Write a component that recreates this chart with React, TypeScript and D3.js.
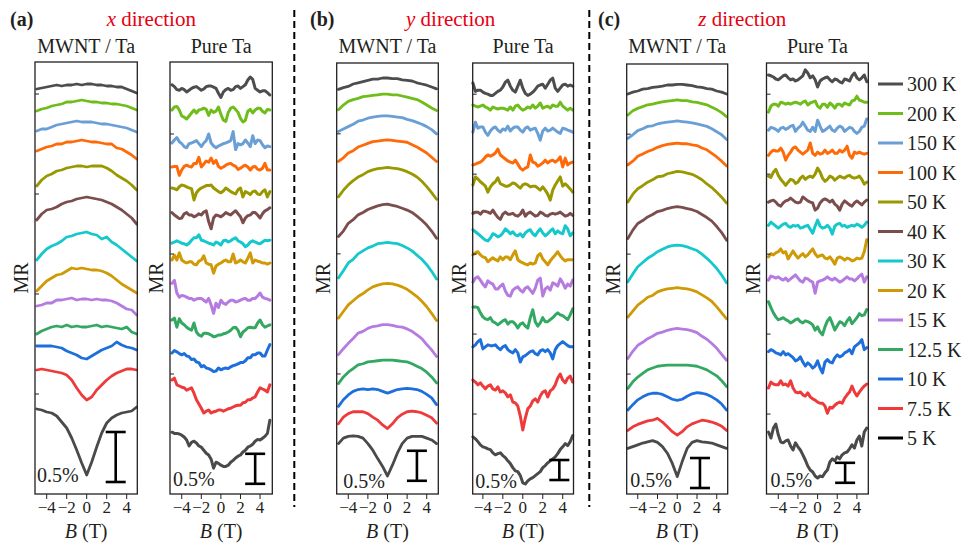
import React from 'react';
import * as d3 from 'd3';

const W = 967;
const H = 548;
const FONT = "'Liberation Serif', 'Times New Roman', Times, serif";

// temperatures, top to bottom
const temps = ['300 K', '200 K', '150 K', '100 K', '50 K', '40 K', '30 K', '20 K', '15 K', '12.5 K', '10 K', '7.5 K', '5 K'];
const colors = ['#4d4d4d', '#6fbd1a', '#6a9fd6', '#ff6a08', '#9a9800', '#7b4d4d', '#14c8cb', '#cf9a05', '#b57be0', '#33a862', '#1e6fdc', '#ee3a3a', '#4a4a4a'];
const legendColors = [...colors.slice(0, 12), '#000000'];

// field sweep grids (T)
const bMwnt = [-5, -4.5, -4, -3.5, -3, -2.5, -2, -1.5, -1, -0.5, 0, 0.5, 1, 1.5, 2, 2.5, 3, 3.5, 4, 4.5, 5];
const bPure = [-5, -4.75, -4.5, -4.25, -4, -3.75, -3.5, -3.25, -3, -2.75, -2.5, -2.25, -2, -1.75, -1.5, -1.25, -1, -0.75, -0.5, -0.25, 0,
  0.25, 0.5, 0.75, 1, 1.25, 1.5, 1.75, 2, 2.25, 2.5, 2.75, 3, 3.25, 3.5, 3.75, 4, 4.25, 4.5, 4.75, 5];

// MR(B) - MR(0), in units of 0.01 %, one row per temperature
// offsets: vertical shift of each curve (same units)

// (a) x direction, MWNT / Ta
const xMwntMR = [
  [-5, -4, -3, -2, -1, -2, -1, -1, 0, -1, 0, 0, -1, -1, -2, -2, -3, -3, -5, -7, -9],
  [-10, -8, -7, -5, -4, -3, -1, -1, 0, 1, 0, -1, -1, -2, -2, -3, -3, -4, -5, -7, -9],
  [-9, -7, -7, -5, -3, -2, -1, 0, 1, 0, 0, 0, -1, -2, -2, -3, -4, -5, -6, -8, -10],
  [-10, -8, -6, -5, -3, -3, -1, -1, 0, 1, 0, -1, -1, -2, -3, -3, -7, -8, -11, -14, -18],
  [-19, -13, -9, -7, -4, -3, -1, 0, 1, 1, 0, 1, 1, 1, -1, -4, -8, -11, -14, -18, -23],
  [-23, -17, -13, -12, -10, -7, -5, -4, -2, -1, 0, -1, -2, -3, -5, -7, -10, -13, -17, -21, -27],
  [-28, -22, -17, -14, -12, -9, -5, -4, -2, -1, 0, -2, -3, -7, -5, -10, -13, -17, -21, -25, -29],
  [-22, -17, -12, -9, -6, -5, -2, 1, 0, 1, 0, -1, -1, -2, -4, -7, -11, -15, -18, -21, -24],
  [-7, -6, -4, -4, -1, -1, 0, 1, -1, 0, 0, -1, 0, -1, -1, -2, -4, -7, -10, -11, -16],
  [-7, -4, -2, 0, 1, 0, 2, 0, 1, 0, 0, 1, 2, 0, 1, 0, -1, -2, 0, -5, -7],
  [13, 13, 13, 13, 12, 11, 8, 6, 4, 1, 0, 3, 6, 9, 11, 13, 17, 14, 12, 11, 9],
  [30, 31, 30, 29, 28, 27, 25, 20, 12, 5, 0, 3, 10, 15, 20, 24, 27, 29, 31, 31, 30],
  [66, 65, 63, 62, 59, 53, 47, 37, 25, 12, 0, 13, 28, 42, 52, 57, 60, 62, 63, 64, 68],
];
const xMwntOffset = [410, 393, 372, 353, 327, 297, 262, 225, 195, 167, 135, 94, 19];

// (a) x direction, pure Ta
const xPureMR = [
  [21, 18, 13, 12, 15, 13, 9, 12, 15, 17, 18, 15, 12, 14, 18, 19, 19, 17, 15, 7, 0, 9, 13, 15, 12, 13, 18, 19, 15, 18, 21, 29, 34, 30, 15, 12, 9, 11, 11, 8, 4],
  [7, 12, 13, 7, -3, -5, -8, -3, 2, 7, 2, 7, 8, 10, 8, -2, 7, 3, 5, 12, 0, -10, -12, 3, 10, 12, 8, 3, -7, -13, -10, 5, 8, 2, 7, 10, 10, 5, 2, 8, 7],
  [3, 8, 12, 5, 2, -3, -5, 2, 3, 5, 7, 2, -3, 3, 7, 18, 3, -2, -5, -2, 0, 2, 3, 5, 7, 22, -8, 2, 0, 2, 8, 3, -3, 15, 2, 8, 7, 0, -5, -2, -3],
  [2, 3, 3, -12, -3, 3, 5, 3, 2, 8, 8, 18, 2, 7, 12, 10, 17, 8, 13, 3, 0, 2, 5, 7, 8, 5, 3, -2, 0, 3, 5, 2, -3, 2, 3, -2, -3, 0, 8, -3, -3],
  [8, 7, 5, 10, 13, 12, 10, 8, 7, -12, 0, 5, 8, 10, 12, 12, 13, 8, 5, 2, 0, 3, 8, 5, 2, 0, -2, 5, 8, -7, 2, 0, -3, 2, 3, -2, -3, 2, 5, -7, 2],
  [7, 3, 0, -3, -2, 5, 7, 3, 3, 0, 2, 5, 3, 8, 10, -8, -20, -2, 3, 2, 0, 3, 7, 5, 3, 7, 10, 5, 0, -10, -2, 2, 3, 7, 7, 3, -2, 5, 10, 12, 15],
  [3, 5, 7, 5, 3, 2, 0, 3, 8, 12, 12, 17, 8, 7, 5, 3, 2, 0, 5, 3, 0, 7, 8, 5, 7, 10, 12, 7, 5, 2, -3, 0, 5, 7, 5, 3, 2, 5, 8, 7, 8],
  [5, 13, 5, 17, 5, 2, 0, 2, 2, -2, -3, 3, 5, 12, 0, -2, -3, -17, -5, -2, 0, 3, 5, 2, 2, 15, 0, 2, 5, 2, 0, 8, 17, 0, 5, 3, 2, 0, 0, -2, 0],
  [28, 33, 12, 5, 8, 7, 5, 3, 3, 0, 2, 3, 3, 0, -3, 3, -8, -22, -5, -12, 0, -5, -7, -3, 0, 0, -3, -2, 0, 2, 3, 0, 0, 3, 3, 7, 12, 5, 3, 2, 0],
  [25, 28, 13, 27, 20, 17, 13, 10, 8, 20, 5, 0, -2, 3, 3, 2, 0, -3, -2, 0, 0, 2, 3, 5, 8, 12, 13, 8, -3, 5, 8, 12, 13, 12, 12, 20, 25, 17, 13, 15, 17],
  [28, 32, 30, 27, 25, 27, 23, 22, 17, 18, 13, 12, 5, 7, 3, 2, 0, -3, -2, 3, 0, 2, 3, 2, 5, 7, 8, 10, 12, 12, 15, 20, 20, 25, 25, 28, 28, 23, 23, 33, 42],
  [50, 53, 42, 40, 38, 37, 33, 35, 37, 28, 17, 10, 3, -5, -2, 0, -5, -3, -2, 0, 0, -2, 0, 2, 3, 5, 7, 8, 8, 12, 13, 17, 17, 20, 22, 30, 37, 35, 33, 30, 42],
  [55, 53, 53, 52, 50, 47, 42, 32, 38, 40, 37, 32, 30, 25, 20, 17, 10, -5, 5, 3, 0, -2, -2, 0, 5, 8, 12, 15, 17, 22, 25, 30, 32, 35, 40, 43, 42, 45, 48, 53, 75],
];
const xPureOffset = [661, 633, 582, 543, 502, 462, 415, 385, 323, 265, 207, 140, 48];

// (b) y direction, MWNT / Ta
const yMwntMR = [
  [-19, -16, -14, -10, -8, -6, -4, -2, -2, 0, 0, -1, -1, -3, -4, -5, -8, -10, -12, -15, -18],
  [-26, -18, -12, -9, -7, -4, -3, -2, -1, 0, 0, -1, -1, -3, -5, -7, -9, -13, -18, -23, -27],
  [-26, -22, -18, -14, -9, -7, -4, -2, -1, 0, 0, -1, -2, -3, -6, -8, -11, -14, -18, -23, -30],
  [-36, -30, -22, -18, -12, -9, -6, -3, -2, -1, 0, -1, -2, -3, -4, -8, -12, -17, -22, -29, -36],
  [-49, -38, -29, -22, -16, -12, -7, -4, -2, -1, 0, -1, -2, -4, -7, -11, -16, -23, -32, -42, -53],
  [-54, -45, -32, -26, -18, -14, -9, -6, -3, -1, 0, -2, -4, -7, -10, -14, -20, -27, -35, -45, -57],
  [-59, -47, -34, -28, -19, -14, -9, -6, -2, -1, 0, -1, -2, -5, -9, -14, -21, -28, -37, -48, -61],
  [-58, -47, -36, -29, -22, -17, -11, -6, -3, -1, 0, -1, -3, -6, -10, -16, -22, -30, -39, -50, -62],
  [-50, -40, -31, -23, -14, -11, -6, -3, -2, 0, 0, -1, -3, -4, -7, -11, -17, -23, -33, -42, -53],
  [-39, -28, -20, -14, -8, -6, -3, -2, -1, 0, 0, 0, -1, -2, -3, -6, -10, -14, -20, -28, -38],
  [-22, -11, -3, 3, 6, 7, 6, 7, 6, 3, 0, 3, 6, 7, 8, 7, 6, 3, -2, -8, -19],
  [8, 19, 25, 28, 28, 28, 25, 19, 14, 6, 0, 8, 18, 24, 28, 29, 28, 26, 22, 18, 9],
  [54, 63, 66, 67, 66, 63, 54, 43, 29, 16, 0, 18, 38, 54, 63, 66, 66, 66, 63, 60, 54],
];
const yMwntOffset = [693, 666, 630, 590, 544, 483, 419, 351, 282, 223, 168, 109, 30];

// (b) y direction, pure Ta
const yPureMR = [
  [13, -8, -5, -5, -10, -13, -15, -18, -18, -13, -8, -5, 3, 15, 20, 5, -5, -10, 5, 20, 0, -13, -18, -15, -10, -3, 5, 8, 10, 0, 10, 20, 25, 0, -8, 0, 8, 10, 5, 8, 5],
  [13, 10, 8, 10, 13, 8, 5, 0, 8, 5, 3, 5, 5, 3, 0, 8, 0, 10, 13, 5, 0, 3, 8, 5, 13, 5, 10, 18, 5, 8, 10, 5, 13, 10, 10, 20, 10, 5, 0, 5, 0],
  [0, 25, 10, 13, 13, 0, -8, 3, 10, 13, 5, 0, 8, 5, 15, 3, 10, 13, 13, 5, 0, 10, 13, 5, 8, 10, -3, -20, 3, 10, 3, 5, 10, 5, 0, -3, 10, 8, 5, 3, 0],
  [13, 15, 18, 20, 25, 33, 38, 35, 38, 43, 53, 38, 33, 28, 23, 20, 18, 25, 15, 5, 0, 5, 8, 38, 20, 18, 10, 13, 18, 25, 18, 23, 25, 20, 25, 33, 8, 30, 13, 18, 20],
  [0, 20, 15, 8, 3, -3, -18, -5, 3, 8, 18, 3, 0, -3, -3, 0, 5, 3, -3, -8, 0, 3, 0, -5, -3, -3, -8, -13, -5, -13, -23, -38, -13, 0, 10, 20, -3, 3, -3, -10, -18],
  [-8, -5, -5, -10, -3, -3, -5, -8, 0, -10, -18, -23, -10, -5, -10, -10, -8, -13, -15, -10, 0, -15, -8, -5, -10, -15, -13, -5, -8, -13, -15, -10, -8, -10, -8, -5, -10, -15, -13, -8, -13],
  [18, 13, 8, 3, -3, -8, -10, -3, 8, 5, 0, 3, 10, 20, 15, 8, 13, 5, 3, 8, 0, 10, 15, 18, 8, 3, 13, 20, 10, 3, 8, 15, 20, 8, 15, 10, 8, 28, 20, 3, 10],
  [20, 25, 28, 20, 15, 13, 3, 8, 13, 8, 5, 15, 8, 15, 15, 8, 20, 30, 8, 3, 0, -3, -5, 0, -3, 0, 18, 23, 10, 3, -5, 5, 13, 20, 28, 18, 10, 5, 8, 8, 8],
  [25, 35, 38, 30, 20, 13, 28, 23, 20, 8, 8, 15, 20, 3, -8, -10, 5, 10, 13, 5, 0, 10, 13, 5, -3, 10, 30, 35, -10, 8, 13, 5, 23, 20, 15, 33, 23, 10, 20, 15, 30],
  [40, 40, 38, 25, 15, 10, 8, 13, 3, 0, -5, 0, 5, 8, -3, 3, 3, -3, -13, -3, 0, -8, -13, 13, 33, 3, -8, 0, 13, 3, 3, 8, 13, 20, 25, 20, 18, 13, 8, 20, 35],
  [25, 30, 38, 43, 20, 25, 30, 28, 28, 30, 23, 18, 25, 28, 18, 13, 10, 18, 10, -13, 0, 3, 8, 13, 15, 8, 5, 15, 18, 13, 18, 10, -5, 18, 28, 33, 38, 33, 28, 25, 25],
  [125, 120, 113, 118, 110, 103, 110, 113, 103, 100, 108, 95, 98, 93, 83, 88, 70, 68, 60, 35, 0, 30, 53, 60, 73, 78, 70, 85, 95, 98, 83, 98, 103, 113, 130, 140, 125, 118, 130, 135, 120],
  [115, 110, 103, 95, 90, 88, 85, 83, 75, 70, 73, 75, 68, 63, 55, 48, 38, 30, 28, 18, 0, -3, 5, 10, 13, 18, 23, 28, 38, 43, 50, 55, 60, 65, 73, 83, 90, 98, 93, 103, 118],
];
const yPureOffset = [1015, 960, 905, 810, 773, 710, 643, 578, 505, 428, 343, 160, 28];

// (c) z direction, MWNT / Ta
const zMwntMR = [
  [-16, -13, -11, -8, -7, -5, -4, -3, -1, -1, 0, 0, -1, -2, -4, -5, -7, -8, -11, -13, -16],
  [-25, -18, -14, -11, -8, -7, -5, -3, -2, -1, 0, -1, -1, -3, -4, -6, -8, -12, -16, -21, -28],
  [-29, -23, -16, -13, -9, -8, -5, -3, -2, -1, 0, -1, -2, -3, -5, -7, -9, -13, -18, -23, -31],
  [-36, -30, -22, -18, -14, -11, -7, -4, -2, -1, 0, -1, -1, -3, -4, -8, -11, -17, -23, -30, -38],
  [-51, -38, -29, -24, -18, -14, -9, -8, -4, -2, 0, -1, -3, -5, -9, -14, -21, -27, -35, -43, -53],
  [-53, -39, -28, -23, -17, -13, -8, -6, -3, -1, 0, -1, -3, -5, -8, -13, -18, -24, -33, -43, -56],
  [-61, -48, -36, -29, -22, -17, -11, -7, -3, -1, 0, -1, -3, -6, -9, -15, -22, -30, -39, -50, -63],
  [-49, -39, -29, -23, -16, -13, -7, -4, -2, -1, 0, -1, -2, -4, -7, -12, -17, -23, -32, -42, -52],
  [-50, -38, -28, -23, -17, -13, -8, -6, -3, -1, 0, -1, -2, -4, -7, -13, -18, -25, -33, -43, -53],
  [-39, -28, -20, -14, -8, -5, -2, -1, 0, 0, 0, 0, 0, -1, -2, -5, -8, -13, -18, -26, -36],
  [-16, -7, 1, 6, 10, 12, 12, 10, 6, 2, 0, 2, 7, 11, 13, 12, 10, 6, 1, -6, -16],
  [8, 14, 18, 21, 24, 25, 28, 22, 14, 6, 0, 6, 14, 19, 22, 25, 24, 22, 19, 15, 8],
  [47, 50, 53, 56, 58, 60, 57, 50, 39, 22, 0, 25, 47, 57, 60, 58, 57, 56, 53, 50, 47],
];
const zMwntOffset = [683, 657, 622, 585, 538, 479, 415, 344, 276, 215, 156, 98, 29];

// (c) z direction, pure Ta
const zPureMR = [
  [30, 28, 25, 20, 18, 23, 28, 30, 23, 18, 20, 15, 18, 23, 28, 43, 35, 23, 28, 18, 0, 15, 20, 23, 25, 18, 13, 20, 18, 13, 10, 20, 18, 15, 28, 35, 23, 18, 23, 30, 13],
  [-15, 0, 5, 5, 0, 10, 8, 5, 8, 5, 8, 10, 8, 5, 10, 13, 3, 8, 10, 13, 0, -5, 5, 5, -3, 8, 3, -5, 5, 5, 0, 8, 5, 3, 13, 15, 25, 15, 13, 10, 10],
  [-25, -18, -20, -23, -28, -20, -18, -23, -20, -15, -13, -28, -20, -15, -5, -15, -25, -28, -18, -28, 0, -15, -28, -25, -20, -15, -25, -28, -20, -15, -18, -28, -23, -18, -20, -28, -33, -28, -18, -15, 3],
  [-8, 0, 5, 3, 3, 10, 0, -20, -8, 0, 10, 13, 5, 0, -5, 0, 5, 23, -3, -8, 0, -5, -3, 5, -3, 0, 5, -3, -3, 5, 0, 5, 15, -8, -15, 0, -3, 0, -3, -5, -3],
  [-20, -23, -10, -3, -18, -28, -35, -43, -35, -28, -30, -38, -35, -25, -20, -28, -23, -20, -23, -15, 0, -10, -25, -33, -28, -20, -23, -30, -25, -20, -23, -25, -20, -18, -23, -25, -23, -20, -28, -40, -35],
  [15, 18, 20, 15, 8, 5, 13, 18, 20, 25, 20, 15, 13, 15, 28, 23, 18, 15, 13, -5, 0, 13, 20, 23, 20, 15, 20, 10, 5, -5, 10, 18, 13, 8, 5, 13, 18, 13, 8, 15, 20],
  [-13, -5, -10, -15, -20, -15, -10, -8, -15, -18, -13, -15, -13, -20, -18, -15, -13, -23, -33, -15, 0, -15, -20, -18, -13, -20, -35, -15, -10, -8, -15, -13, -18, -15, -13, -15, -10, -13, -18, -13, -5],
  [0, 8, 5, 10, 13, 20, 10, 13, -5, 5, 15, 5, -3, 3, 8, 0, 5, 13, 20, 8, 0, 3, 5, -3, -5, 0, -8, -18, -3, 0, -3, -8, -3, -5, -10, -8, -3, -5, -3, 13, 43],
  [5, 15, 13, 10, 13, 8, 5, 10, 3, 8, 13, 18, 10, 3, 0, 10, 8, 3, 0, -28, 0, 3, 5, 8, 13, 8, 5, 10, 5, 0, 3, 8, 13, 8, 8, 3, 8, 15, 20, 0, 13],
  [63, 48, 35, 25, 18, 20, 23, 18, 15, 10, 13, 18, 20, 13, 10, 15, 13, 10, 5, -8, 0, -13, -20, 0, 15, 23, 8, -8, 3, 13, 10, 3, 15, 23, 8, 15, 23, 33, 28, 30, 43],
  [23, 28, 25, 20, 18, 15, 23, 15, 18, 13, 8, 0, 3, 10, -3, -13, -5, -10, -18, -13, 0, -18, -30, -3, 3, -3, -5, 8, 15, 10, 13, 20, 23, 28, 18, 35, 40, 45, 53, 28, 33],
  [35, 50, 45, 43, 43, 53, 43, 45, 40, 53, 35, 25, 23, 25, 18, 15, 23, 13, 8, 5, 0, -3, -3, -10, -28, -13, -15, -8, -3, 0, -3, 10, 18, 25, 40, 25, 15, 25, 33, 40, 45],
  [115, 100, 125, 135, 108, 90, 88, 93, 95, 80, 70, 88, 78, 70, 58, 45, 30, 20, 15, 5, 0, 5, 3, 13, 20, 40, 48, 43, 53, 48, 58, 63, 65, 73, 83, 75, 95, 105, 80, 115, 125],
];
const zPureOffset = [1018, 970, 935, 855, 815, 715, 685, 593, 530, 418, 333, 230, 40];

const scaleBarMR = 50; // 0.5 %
const xTicks = [-4, -2, 0, 2, 4];

const groups = [
  { tag: '(a)', axis: 'x', tagX: 10, titleX: 106.7 },
  { tag: '(b)', axis: 'y', tagX: 310, titleX: 406 },
  { tag: '(c)', axis: 'z', tagX: 598, titleX: 698.3 },
];

const panels = [
  { title: 'MWNT / Ta', b: bMwnt, mr: xMwntMR, off: xMwntOffset, left: 35, right: 137.3, top: 62, bottom: 494, xDom: [-5.17, 5.06], yMax: 432, barB: 2.9, barV: 12, lblDx: 2, lblDy: 12, lw: 2.8 },
  { title: 'Pure Ta', b: bPure, mr: xPureMR, off: xPureOffset, left: 170, right: 272.3, top: 62, bottom: 494, xDom: [-5.2, 5.25], yMax: 720, barB: 3.5, barV: 17, lblDx: 3, lblDy: 8, lw: 3 },
  { title: 'MWNT / Ta', b: bMwnt, mr: yMwntMR, off: yMwntOffset, left: 336.7, right: 438.3, top: 63, bottom: 494, xDom: [-5.18, 5.18], yMax: 718, barB: 3.0, barV: 22, lblDx: 6.5, lblDy: 6, lw: 2.8 },
  { title: 'Pure Ta', b: bPure, mr: yPureMR, off: yPureOffset, left: 472.7, right: 573.5, top: 63, bottom: 494, xDom: [-5.02, 5.08], yMax: 1078, barB: 3.66, barV: 35, lblDx: 2.5, lblDy: 6, lw: 3 },
  { title: 'MWNT / Ta', b: bMwnt, mr: zMwntMR, off: zMwntOffset, left: 626.7, right: 727.7, top: 64, bottom: 494, xDom: [-5.12, 5.11], yMax: 717, barB: 2.3, barV: 10, lblDx: 3.5, lblDy: 7, lw: 2.8 },
  { title: 'Pure Ta', b: bPure, mr: zPureMR, off: zPureOffset, left: 766.5, right: 868.3, top: 63, bottom: 494, xDom: [-5.2, 5.16], yMax: 1078, barB: 2.8, barV: 28, lblDx: 4, lblDy: 7, lw: 3 },
];

const fmt = (v: number) => (v < 0 ? '\u2212' + Math.abs(v) : String(v));
const txt = { fontFamily: FONT, fill: '#231f20' };

function Panel({ p }: { p: any }) {
  const x = d3.scaleLinear().domain(p.xDom).range([p.left, p.right]);
  const y = d3.scaleLinear().domain([0, p.yMax]).range([p.bottom, p.top]);
  const line = d3.line<[number, number]>().x(d => x(d[0])).y(d => y(d[1]));
  const cx = (p.left + p.right) / 2;
  const midY = (p.top + p.bottom) / 2;
  const bx = x(p.barB);
  const yTicks = y.ticks(4).filter(t => t > 0);

  return (
    <g>
      <text x={cx} y={52.7} textAnchor="middle" fontSize={20} style={txt}>{p.title}</text>
      {p.mr.map((vals: number[], i: number) => (
        <path
          key={i}
          d={line(vals.map((v, j) => [p.b[j], p.off[i] + v]) as [number, number][]) || ''}
          fill="none"
          stroke={colors[i]}
          strokeWidth={p.lw}
          strokeLinejoin="round"
          strokeLinecap="round"
        />
      ))}
      <rect x={p.left} y={p.top} width={p.right - p.left} height={p.bottom - p.top} fill="none" stroke="#231f20" strokeWidth={1.3} />
      {xTicks.map(t => (
        <g key={t}>
          <line x1={x(t)} x2={x(t)} y1={p.bottom} y2={p.bottom + 5} stroke="#231f20" strokeWidth={1} />
          <text x={x(t)} y={513} textAnchor="middle" fontSize={17} style={txt}>{fmt(t)}</text>
        </g>
      ))}
      {yTicks.map(t => (
        <line key={t} x1={p.left} x2={p.left + 4} y1={y(t)} y2={y(t)} stroke="#231f20" strokeWidth={1} />
      ))}
      <g stroke="#000" strokeWidth={2.6}>
        <line x1={bx} x2={bx} y1={y(p.barV)} y2={y(p.barV + scaleBarMR)} />
        <line x1={bx - 10} x2={bx + 10} y1={y(p.barV)} y2={y(p.barV)} />
        <line x1={bx - 10} x2={bx + 10} y1={y(p.barV + scaleBarMR)} y2={y(p.barV + scaleBarMR)} />
      </g>
      <text x={p.left + p.lblDx} y={p.bottom - p.lblDy} fontSize={20} style={txt}>0.5%</text>
      <text transform={`translate(${p.left - 7},${midY}) rotate(-90)`} textAnchor="middle" fontSize={20} style={txt}>MR</text>
      <text x={cx} y={538} textAnchor="middle" fontSize={20} style={txt}>
        <tspan fontStyle="italic">B</tspan> (T)
      </text>
    </g>
  );
}

export default function App() {
  return (
    <svg width={W} height={H} style={{ position: 'absolute', left: 0, top: 0, background: '#fff' }} fontFamily={FONT}>
      <rect width={W} height={H} fill="#fff" />
      {groups.map(g => (
        <g key={g.tag}>
          <text x={g.tagX} y={26} fontSize={20} fontWeight="bold" style={txt}>{g.tag}</text>
          <text x={g.titleX} y={26} fontSize={21} style={{ fontFamily: FONT, fill: '#e60012' }}>
            <tspan fontStyle="italic">{g.axis}</tspan> direction
          </text>
        </g>
      ))}
      {panels.map((p, i) => <Panel key={i} p={p} />)}
      {[294.3, 589.3].map(xd => (
        <line key={xd} x1={xd} x2={xd} y1={10} y2={507} stroke="#000" strokeWidth={2} strokeDasharray="7,4" />
      ))}
      {temps.map((t, i) => {
        const ly = 84 + 29.5 * i;
        return (
          <g key={t}>
            <line x1={878} x2={903} y1={ly} y2={ly} stroke={legendColors[i]} strokeWidth={3} />
            <text x={907} y={ly + 7} fontSize={20} style={txt}>{t}</text>
          </g>
        );
      })}
    </svg>
  );
}
